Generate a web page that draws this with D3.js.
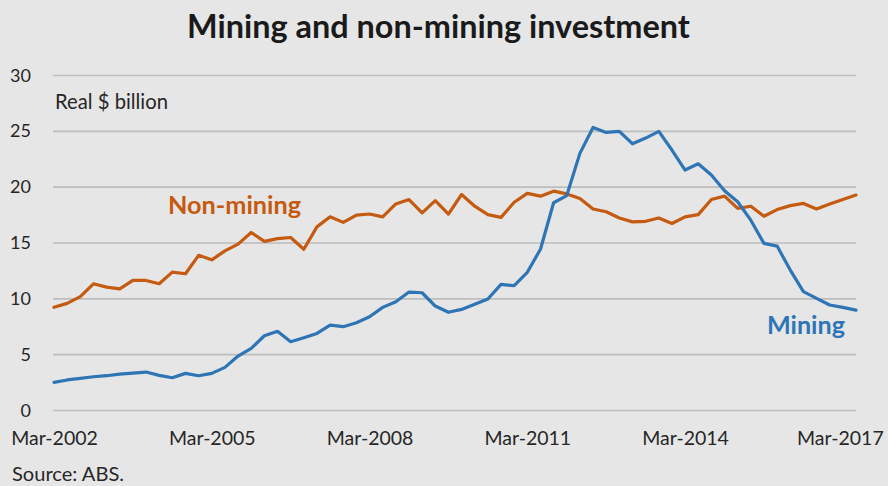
<!DOCTYPE html>
<html>
<head>
<meta charset="utf-8">
<script src="https://cdn.jsdelivr.net/npm/d3@7"></script>
<style>
  html, body { margin: 0; padding: 0; background: #e6e6e6; }
  svg { display: block; }
</style>
</head>
<body>
<svg id="chart" width="888" height="486"></svg>
<script>
// ---- data ----
const quarters = [
  "Mar-2002","Jun-2002","Sep-2002","Dec-2002","Mar-2003","Jun-2003","Sep-2003","Dec-2003",
  "Mar-2004","Jun-2004","Sep-2004","Dec-2004","Mar-2005","Jun-2005","Sep-2005","Dec-2005",
  "Mar-2006","Jun-2006","Sep-2006","Dec-2006","Mar-2007","Jun-2007","Sep-2007","Dec-2007",
  "Mar-2008","Jun-2008","Sep-2008","Dec-2008","Mar-2009","Jun-2009","Sep-2009","Dec-2009",
  "Mar-2010","Jun-2010","Sep-2010","Dec-2010","Mar-2011","Jun-2011","Sep-2011","Dec-2011",
  "Mar-2012","Jun-2012","Sep-2012","Dec-2012","Mar-2013","Jun-2013","Sep-2013","Dec-2013",
  "Mar-2014","Jun-2014","Sep-2014","Dec-2014","Mar-2015","Jun-2015","Sep-2015","Dec-2015",
  "Mar-2016","Jun-2016","Sep-2016","Dec-2016","Mar-2017","Jun-2017"
];
const nonMining = [9.2, 9.55, 10.15, 11.3, 11.0, 10.85, 11.6, 11.6, 11.3, 12.35,
  12.2, 13.85, 13.45, 14.25, 14.85, 15.9, 15.1, 15.35, 15.45, 14.4,
  16.4, 17.3, 16.8, 17.45, 17.55, 17.3, 18.45, 18.85, 17.65, 18.75,
  17.55, 19.3, 18.25, 17.5, 17.25, 18.6, 19.4, 19.15, 19.6, 19.35,
  18.95, 18.0, 17.75, 17.2, 16.85, 16.9, 17.2, 16.7, 17.3, 17.5,
  18.85, 19.15, 18.05, 18.25, 17.35, 17.95, 18.3, 18.5, 18.0, 18.45,
  18.85, 19.25];
const mining = [2.48, 2.69, 2.83, 2.98, 3.07, 3.22, 3.31, 3.4, 3.1, 2.89,
  3.28, 3.07, 3.28, 3.82, 4.83, 5.52, 6.65, 7.05, 6.12, 6.47,
  6.86, 7.6, 7.46, 7.82, 8.35, 9.19, 9.7, 10.56, 10.5, 9.31,
  8.75, 9.01, 9.46, 9.94, 11.25, 11.13, 12.33, 14.4, 18.56, 19.2,
  22.98, 25.3, 24.86, 24.95, 23.84, 24.35, 24.95, 23.28, 21.49, 22.05,
  21.04, 19.64, 18.65, 17.0, 14.92, 14.68, 12.53, 10.6, 10.0, 9.4,
  9.19, 8.95];
const xTickLabels = ["Mar-2002","Mar-2005","Mar-2008","Mar-2011","Mar-2014","Mar-2017"];
const yTickValues = [0, 5, 10, 15, 20, 25, 30];
const seriesNames = ["Non-mining", "Mining"];

// ---- layout ----
const W = 888, H = 486;
const FONT = "Lato, 'Open Sans', sans-serif";
const svg = d3.select("#chart");
svg.append("rect").attr("width", W).attr("height", H).attr("fill", "#e6e6e6");

const x = d3.scalePoint().domain(quarters).range([54, 856]);
const y = d3.scaleLinear().domain([0, 30]).range([410, 75]);

// fit helper: scale font size so text spans target width
function fit(sel, target) {
  const node = sel.node();
  const fs = parseFloat(sel.attr("font-size"));
  const w = node.getComputedTextLength();
  if (w > 0) sel.attr("font-size", (fs * target / w).toFixed(2));
  return sel;
}

// gridlines
const yAxis = d3.axisLeft(y).tickValues(yTickValues).tickSize(-(856 - 53)).tickPadding(22).tickFormat(d3.format("d"));
const gy = svg.append("g").attr("transform", "translate(53,0)").call(yAxis);
gy.select(".domain").remove();
gy.selectAll(".tick line").attr("stroke", "#bdbdbd").attr("stroke-width", 1.6);
gy.selectAll(".tick text")
  .attr("font-family", FONT).attr("font-size", 18).attr("fill", "#262626")
  .attr("x", -22).attr("dy", "0.34em");

// x axis labels
const xAxis = d3.axisBottom(x).tickValues(xTickLabels).tickSize(0).tickPadding(0);
const gx = svg.append("g").attr("transform", "translate(0,445)").call(xAxis);
gx.select(".domain").remove();
gx.selectAll(".tick text")
  .attr("font-family", FONT).attr("font-size", 19.5).attr("fill", "#262626")
  .attr("y", 0).attr("dy", 0);
gx.selectAll(".tick").filter(d => d === "Mar-2017").select("text").attr("dx", -3);

// lines
const line = vals => d3.line()
  .x((d, i) => x(quarters[i]))
  .y(d => y(d))(vals);

svg.append("path").attr("d", line(nonMining))
  .attr("fill", "none").attr("stroke", "#C55A11").attr("stroke-width", 3.2)
  .attr("stroke-linejoin", "round").attr("stroke-linecap", "round");
svg.append("path").attr("d", line(mining))
  .attr("fill", "none").attr("stroke", "#2E75B6").attr("stroke-width", 3.2)
  .attr("stroke-linejoin", "round").attr("stroke-linecap", "round");

// title
const title = svg.append("text").attr("x", 187).attr("y", 38)
  .attr("font-family", FONT).attr("font-weight", "bold").attr("font-size", 30)
  .attr("fill", "#1a1a1a").text("Mining and non-mining investment");
fit(title, 503);

// unit label
const unit = svg.append("text").attr("x", 55).attr("y", 109)
  .attr("font-family", FONT).attr("font-size", 18).attr("fill", "#262626")
  .text("Real $ billion");
fit(unit, 113);

// series labels
const nm = svg.append("text").attr("x", 168).attr("y", 214)
  .attr("font-family", FONT).attr("font-weight", "bold").attr("font-size", 24)
  .attr("fill", "#C55A11").text(seriesNames[0]);
fit(nm, 133);
const mn = svg.append("text").attr("x", 767).attr("y", 334)
  .attr("font-family", FONT).attr("font-weight", "bold").attr("font-size", 24)
  .attr("fill", "#2E75B6").text(seriesNames[1]);
fit(mn, 78);

// source
const src = svg.append("text").attr("x", 12).attr("y", 481)
  .attr("font-family", FONT).attr("font-size", 18).attr("fill", "#262626")
  .text("Source: ABS.");
fit(src, 112);
</script>
</body>
</html>
